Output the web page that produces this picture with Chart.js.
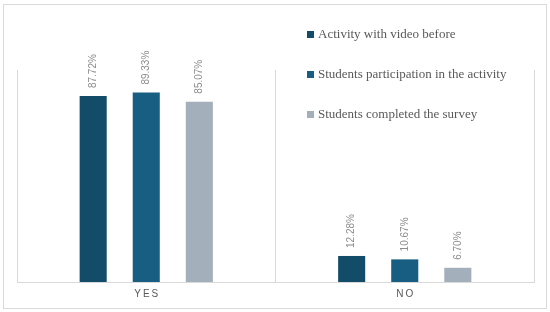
<!DOCTYPE html>
<html>
<head>
<meta charset="utf-8">
<script src="https://cdn.jsdelivr.net/npm/chart.js@4/dist/chart.umd.min.js"></script>
<style>
  body { margin: 0; background: #fff; }
  canvas { display: block; }
</style>
</head>
<body>
<canvas id="grafico" width="550" height="312"></canvas>
<script>
const categorias = ['YES', 'NO'];
const series = ['Activity with video before', 'Students participation in the activity', 'Students completed the survey'];
const videoAntes = [87.72, 12.28];
const participacao = [89.33, 10.67];
const questionario = [85.07, 6.70];
const cores = ['#124c69', '#185e82', '#a3b0bc'];

// rotulos dos valores, em pe, por cima das barras
const rotulos = {
    id: 'rotulos',
    afterDatasetsDraw(chart) {
        const ctx = chart.ctx;
        ctx.save();
        ctx.font = '10px "Liberation Sans", Arial, sans-serif';
        ctx.fillStyle = '#8c8c8c';
        ctx.textAlign = 'left';
        ctx.textBaseline = 'middle';
        chart.data.datasets.forEach((ds, i) => {
            chart.getDatasetMeta(i).data.forEach((barra, j) => {
                ctx.save();
                ctx.translate(barra.x, barra.y - 8);
                ctx.rotate(-Math.PI / 2);
                ctx.fillText(ds.data[j].toFixed(2) + '%', 0, 0);
                ctx.restore();
            });
        });
        ctx.restore();
    }
};

// moldura, categorias espacadas e legenda
const extras = {
    id: 'extras',
    beforeDraw(chart) {
        const ctx = chart.ctx;
        ctx.save();
        ctx.fillStyle = '#fff';
        ctx.fillRect(0, 0, chart.width, chart.height);
        ctx.strokeStyle = '#d9d9d9';
        ctx.lineWidth = 1;
        ctx.strokeRect(3.5, 4.5, 543, 304);
        ctx.restore();
    },
    afterDraw(chart) {
        const ctx = chart.ctx;
        const x = chart.scales.x;
        ctx.save();
        ctx.font = '10px "Liberation Sans", Arial, sans-serif';
        ctx.fillStyle = '#595959';
        ctx.textAlign = 'center';
        ctx.textBaseline = 'middle';
        ctx.letterSpacing = '2px';
        categorias.forEach((c, i) => {
            ctx.fillText(c, x.getPixelForValue(i) + 1, 294);
        });
        ctx.letterSpacing = '0px';
        ctx.font = '13px "Liberation Serif", serif';
        ctx.textAlign = 'left';
        chart.data.datasets.forEach((ds, i) => {
            const y = 31 + i * 40;
            ctx.fillStyle = ds.backgroundColor;
            ctx.fillRect(307, y, 7, 7);
            ctx.fillStyle = '#595959';
            ctx.fillText(ds.label, 318, y + 3.5);
        });
        ctx.restore();
    }
};

const ctx = document.getElementById('grafico').getContext('2d');
const grafico = new Chart(ctx, {
    type: 'bar',
    data: {
        labels: categorias,
        datasets: [
            { label: series[0], data: videoAntes, backgroundColor: cores[0] },
            { label: series[1], data: participacao, backgroundColor: cores[1] },
            { label: series[2], data: questionario, backgroundColor: cores[2] }
        ]
    },
    options: {
        responsive: false,
        animation: false,
        categoryPercentage: 0.616,
        barPercentage: 0.51,
        layout: { padding: { left: 17, right: 16, top: 70, bottom: 30 } },
        plugins: {
            legend: { display: false },
            tooltip: { enabled: false }
        },
        scales: {
            x: {
                ticks: { display: false },
                grid: { offset: true, color: '#d9d9d9', drawTicks: false },
                border: { color: '#d9d9d9' }
            },
            y: {
                display: false,
                min: 0,
                max: 100
            }
        }
    },
    plugins: [rotulos, extras]
});
</script>
</body>
</html>
